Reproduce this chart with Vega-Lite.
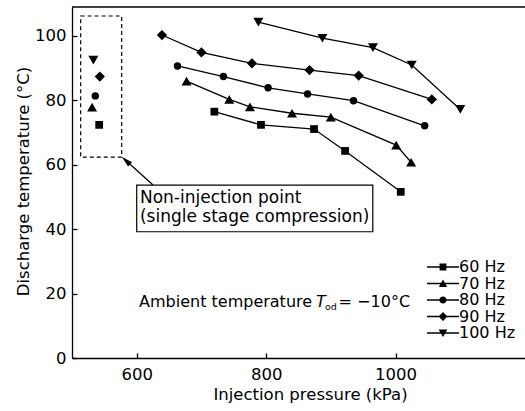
{
  "$schema": "https://vega.github.io/schema/vega-lite/v6.json",
  "width": 453,
  "height": 351,
  "autosize": {"type": "none"},
  "padding": {"left": 72, "top": 7, "right": 0, "bottom": 53},
  "background": "white",
  "config": {
    "view": {"stroke": null},
    "font": "DejaVu Sans",
    "axis": {
      "grid": false,
      "domainColor": "black",
      "tickColor": "black",
      "labelColor": "black",
      "titleColor": "black",
      "labelFont": "DejaVu Sans",
      "titleFont": "DejaVu Sans",
      "labelFontSize": 16.5,
      "titleFontSize": 16.5,
      "titleFontWeight": "normal",
      "tickSize": -5,
      "domainWidth": 1.3,
      "tickWidth": 1.3
    }
  },
  "resolve": {"scale": {"shape": "independent"}, "legend": {"shape": "independent"}},
  "datasets": {
    "series": [
      {"f": "60 Hz", "kind": "inj", "p": 720, "t": 76.5},
      {"f": "60 Hz", "kind": "inj", "p": 792, "t": 72.4},
      {"f": "60 Hz", "kind": "inj", "p": 874, "t": 71.1},
      {"f": "60 Hz", "kind": "inj", "p": 922, "t": 64.3},
      {"f": "60 Hz", "kind": "inj", "p": 1008, "t": 51.6},
      {"f": "70 Hz", "kind": "inj", "p": 677, "t": 86.0},
      {"f": "70 Hz", "kind": "inj", "p": 743, "t": 80.3},
      {"f": "70 Hz", "kind": "inj", "p": 775, "t": 78.0},
      {"f": "70 Hz", "kind": "inj", "p": 840, "t": 76.0},
      {"f": "70 Hz", "kind": "inj", "p": 900, "t": 74.8},
      {"f": "70 Hz", "kind": "inj", "p": 1001, "t": 66.1},
      {"f": "70 Hz", "kind": "inj", "p": 1024, "t": 60.8},
      {"f": "80 Hz", "kind": "inj", "p": 663, "t": 90.7},
      {"f": "80 Hz", "kind": "inj", "p": 734, "t": 87.4},
      {"f": "80 Hz", "kind": "inj", "p": 803, "t": 83.9},
      {"f": "80 Hz", "kind": "inj", "p": 864, "t": 82.0},
      {"f": "80 Hz", "kind": "inj", "p": 935, "t": 79.9},
      {"f": "80 Hz", "kind": "inj", "p": 1045, "t": 72.1},
      {"f": "90 Hz", "kind": "inj", "p": 639, "t": 100.3},
      {"f": "90 Hz", "kind": "inj", "p": 700, "t": 94.9},
      {"f": "90 Hz", "kind": "inj", "p": 778, "t": 91.5},
      {"f": "90 Hz", "kind": "inj", "p": 867, "t": 89.4},
      {"f": "90 Hz", "kind": "inj", "p": 943, "t": 87.7},
      {"f": "90 Hz", "kind": "inj", "p": 1056, "t": 80.3},
      {"f": "100 Hz", "kind": "inj", "p": 788, "t": 104.3},
      {"f": "100 Hz", "kind": "inj", "p": 887, "t": 99.3},
      {"f": "100 Hz", "kind": "inj", "p": 965, "t": 96.4},
      {"f": "100 Hz", "kind": "inj", "p": 1025, "t": 91.0},
      {"f": "100 Hz", "kind": "inj", "p": 1100, "t": 77.2},
      {"f": "100 Hz", "kind": "non", "p": 533, "t": 92.5},
      {"f": "90 Hz", "kind": "non", "p": 543, "t": 87.4},
      {"f": "80 Hz", "kind": "non", "p": 536, "t": 81.4},
      {"f": "70 Hz", "kind": "non", "p": 531, "t": 77.9},
      {"f": "60 Hz", "kind": "non", "p": 542, "t": 72.4}
    ],
    "dashbox": [{"p": 513.4, "p2": 576.8, "t": 62.4, "t2": 106.2}],
    "labelbox": [{"p": 600, "p2": 964.8, "t": 39.2, "t2": 53.7}],
    "arrow": [{"p": 625.2, "t": 53.7, "p2": 583.3, "t2": 61.3}],
    "arrowhead": [{"p": 583.3, "t": 61.3}],
    "boxtext": [
      {"label": "Non-injection point", "p": 605, "t": 48.2},
      {"label": "(single stage compression)", "p": 605, "t": 42.1}
    ],
    "note": [
      {"label": "Ambient temperature", "p": 603.6, "t": 15.9},
      {"label": "= \u221210\u00b0C", "p": 912, "t": 15.9}
    ],
    "noteT": [{"label": "T", "p": 877, "t": 15.9}],
    "noteSub": [{"label": "od", "p": 891, "t": 15.0}]
  },
  "layer": [
    {
      "data": {"name": "series"},
      "transform": [{"filter": "datum.kind == 'inj'"}],
      "mark": {"type": "line", "color": "black", "strokeWidth": 1.3},
      "encoding": {
        "x": {
          "field": "p", "type": "quantitative",
          "scale": {"domain": [500, 1200], "nice": false, "zero": false},
          "axis": {
            "title": "Injection pressure (kPa)",
            "values": [600, 800, 1000],
            "format": "d",
            "labelPadding": 13,
            "titleX": 238, "titleY": 41,
            "titleBaseline": "alphabetic",
            "titleAnchor": null
          }
        },
        "y": {
          "field": "t", "type": "quantitative",
          "scale": {"domain": [0, 109], "nice": false},
          "axis": {
            "title": "Discharge temperature (\u00b0C)",
            "values": [0, 20, 40, 60, 80, 100],
            "labelPadding": 11,
            "titleAngle": -90,
            "titleX": -44, "titleY": 174,
            "titleBaseline": "alphabetic",
            "titleAlign": "center"
          }
        },
        "detail": {"field": "f"}
      }
    },
    {
      "data": {"name": "series"},
      "mark": {"type": "point", "filled": true, "color": "black", "opacity": 1},
      "encoding": {
        "x": {"field": "p", "type": "quantitative"},
        "y": {"field": "t", "type": "quantitative"},
        "shape": {
          "field": "f", "type": "nominal",
          "scale": {
            "domain": ["60 Hz", "70 Hz", "80 Hz", "90 Hz", "100 Hz"],
            "range": ["square", "triangle-up", "circle", "diamond", "triangle-down"]
          },
          "legend": null
        },
        "size": {
          "condition": [
            {"test": "datum.f == '60 Hz'", "value": 60},
            {"test": "datum.f == '80 Hz'", "value": 55},
            {"test": "datum.f == '90 Hz'", "value": 105}
          ],
          "value": 100
        }
      }
    },
    {
      "data": {"name": "series"},
      "transform": [{"filter": "datum.kind == 'legend'"}],
      "mark": {"type": "point", "filled": true, "color": "black", "size": 100, "opacity": 1},
      "encoding": {
        "x": {"field": "p", "type": "quantitative"},
        "y": {"field": "t", "type": "quantitative"},
        "shape": {
          "field": "f", "type": "nominal",
          "scale": {
            "domain": ["60 Hz", "70 Hz", "80 Hz", "90 Hz", "100 Hz"],
            "range": [
              "M-3.2,-0.13H3.2V0.13H-3.2ZM-0.68,-0.68H0.68V0.68H-0.68Z",
              "M-3.2,-0.13H3.2V0.13H-3.2ZM0,-0.78L0.84,0.7H-0.84Z",
              "M-3.2,-0.13H3.2V0.13H-3.2ZM-0.72,0A0.72,0.72,0,1,1,0.72,0A0.72,0.72,0,1,1,-0.72,0Z",
              "M-3.2,-0.13H3.2V0.13H-3.2ZM-0.9,0L0,-0.9L0.9,0L0,0.9Z",
              "M-3.2,-0.13H3.2V0.13H-3.2ZM0,0.8L-0.88,-0.72H0.88Z"
            ]
          },
          "legend": {
            "orient": "none",
            "legendX": 363,
            "legendY": 252,
            "title": null,
            "padding": 0,
            "labelFont": "DejaVu Sans",
            "labelFontSize": 16,
            "labelColor": "black",
            "labelOffset": 8,
            "rowPadding": 0.5,
            "symbolSize": 100,
            "symbolFillColor": "black",
            "symbolStrokeColor": "black",
            "symbolStrokeWidth": 0
          }
        }
      }
    },
    {
      "data": {"values": [{"t": 109}]},
      "mark": {"type": "rule", "color": "black", "strokeWidth": 1.3},
      "encoding": {"y": {"field": "t", "type": "quantitative"}}
    },
    {
      "data": {"name": "dashbox"},
      "mark": {"type": "rect", "fill": null, "stroke": "black", "strokeWidth": 1.2, "strokeDash": [4, 3]},
      "encoding": {
        "x": {"field": "p", "type": "quantitative"},
        "x2": {"field": "p2"},
        "y": {"field": "t", "type": "quantitative"},
        "y2": {"field": "t2"}
      }
    },
    {
      "data": {"name": "labelbox"},
      "mark": {"type": "rect", "fill": "white", "stroke": "black", "strokeWidth": 1.2},
      "encoding": {
        "x": {"field": "p", "type": "quantitative"},
        "x2": {"field": "p2"},
        "y": {"field": "t", "type": "quantitative"},
        "y2": {"field": "t2"}
      }
    },
    {
      "data": {"name": "arrow"},
      "mark": {"type": "rule", "color": "black", "strokeWidth": 1.3},
      "encoding": {
        "x": {"field": "p", "type": "quantitative"},
        "x2": {"field": "p2"},
        "y": {"field": "t", "type": "quantitative"},
        "y2": {"field": "t2"}
      }
    },
    {
      "data": {"name": "arrowhead"},
      "mark": {"type": "point", "filled": true, "color": "black", "opacity": 1, "shape": "M0,-0.8L0.42,0.8L-0.42,0.8Z", "size": 196, "angle": 312},
      "encoding": {
        "x": {"field": "p", "type": "quantitative"},
        "y": {"field": "t", "type": "quantitative"}
      }
    },
    {
      "data": {"name": "boxtext"},
      "mark": {"type": "text", "font": "DejaVu Sans", "fontSize": 17, "color": "black", "align": "left", "baseline": "alphabetic"},
      "encoding": {
        "x": {"field": "p", "type": "quantitative"},
        "y": {"field": "t", "type": "quantitative"},
        "text": {"field": "label"}
      }
    },
    {
      "data": {"name": "note"},
      "mark": {"type": "text", "font": "DejaVu Sans", "fontSize": 16, "color": "black", "align": "left", "baseline": "alphabetic"},
      "encoding": {
        "x": {"field": "p", "type": "quantitative"},
        "y": {"field": "t", "type": "quantitative"},
        "text": {"field": "label"}
      }
    },
    {
      "data": {"name": "noteT"},
      "mark": {"type": "text", "font": "DejaVu Sans", "fontSize": 16, "fontStyle": "italic", "color": "black", "align": "left", "baseline": "alphabetic"},
      "encoding": {
        "x": {"field": "p", "type": "quantitative"},
        "y": {"field": "t", "type": "quantitative"},
        "text": {"field": "label"}
      }
    },
    {
      "data": {"name": "noteSub"},
      "mark": {"type": "text", "font": "DejaVu Sans", "fontSize": 9.5, "color": "black", "align": "left", "baseline": "alphabetic"},
      "encoding": {
        "x": {"field": "p", "type": "quantitative"},
        "y": {"field": "t", "type": "quantitative"},
        "text": {"field": "label"}
      }
    }
  ]
}
